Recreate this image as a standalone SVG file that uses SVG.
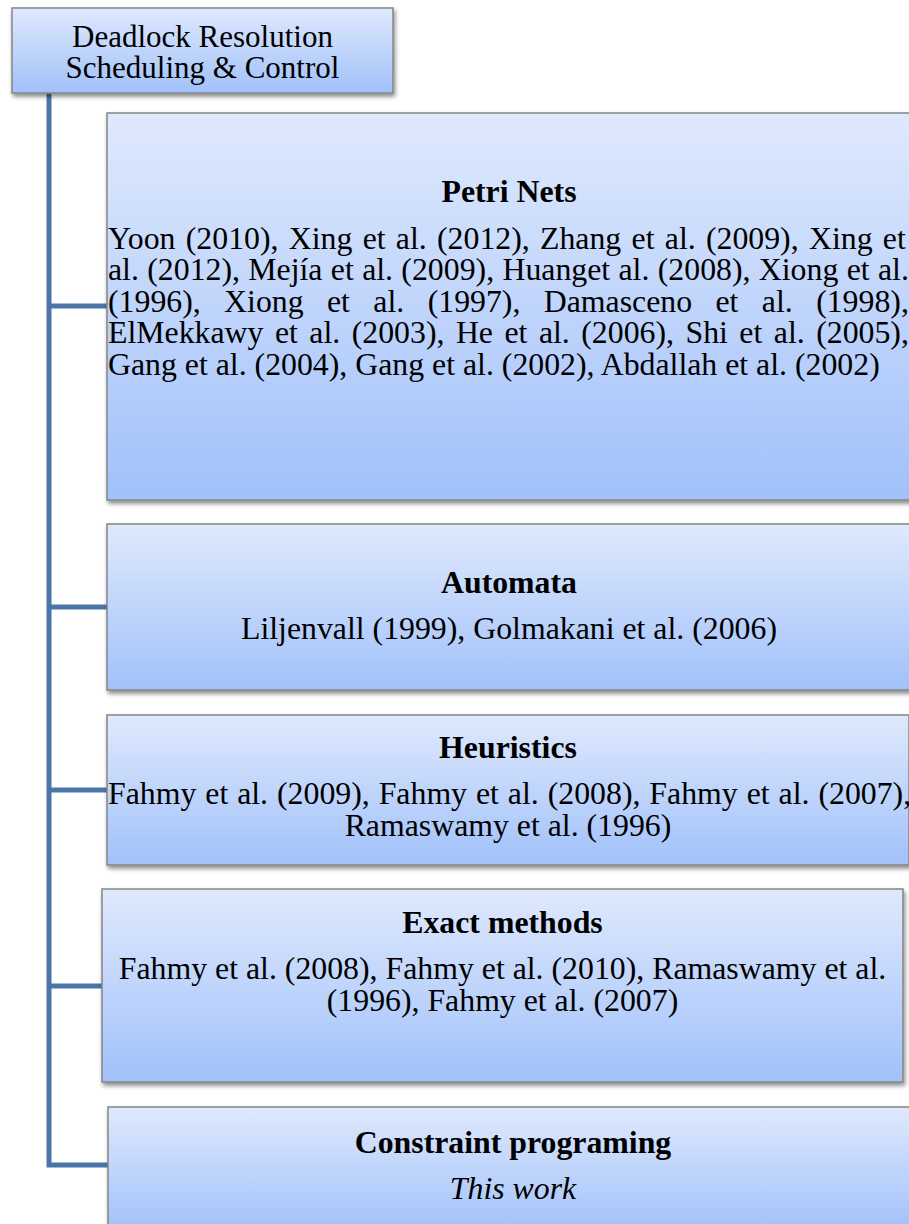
<svg xmlns="http://www.w3.org/2000/svg" width="909" height="1224" viewBox="0 0 909 1224">
  <defs>
    <linearGradient id="boxFill" x1="0" y1="0" x2="0" y2="1">
      <stop offset="0" stop-color="#dfe9fd"/>
      <stop offset="1" stop-color="#a1c1fa"/>
    </linearGradient>
    <filter id="shadow" x="-5%" y="-10%" width="115%" height="130%">
      <feDropShadow dx="1.5" dy="3" stdDeviation="2" flood-color="#000" flood-opacity="0.45"/>
    </filter>
  </defs>
  <style>
    .box { fill: url(#boxFill); stroke: #858585; stroke-width: 1.5; filter: url(#shadow); }
    .conn { fill: none; stroke: #4a75a8; stroke-width: 5; }
    text { font-family: "Liberation Serif", "Times New Roman", serif; font-size: 31.8px; fill: #000; }
    .title { font-weight: bold; text-anchor: middle; }
    .mid { text-anchor: middle; }
    .root { font-size: 31px; text-anchor: middle; }
    .it { font-style: italic; text-anchor: middle; }
  </style>
  <rect width="909" height="1224" fill="#ffffff"/>

  <g id="connectors">
    <path class="conn" d="M49,92 V1165 H108"/>
    <path class="conn" d="M49,306 H107"/>
    <path class="conn" d="M49,607 H107"/>
    <path class="conn" d="M49,790 H107"/>
    <path class="conn" d="M49,986 H102"/>
  </g>

  <g id="root">
    <rect class="box" x="12" y="8" width="381" height="85"/>
    <text class="root" x="202.5" y="47">Deadlock Resolution</text>
    <text class="root" x="202.5" y="78">Scheduling &amp; Control</text>
  </g>

  <g id="petri-nets">
    <rect class="box" x="107" y="113" width="805" height="387"/>
    <text class="title" x="509" y="202">Petri Nets</text>
    <text x="108" y="248.5" word-spacing="2.33">Yoon (2010), Xing et al. (2012), Zhang et al. (2009), Xing et</text>
    <text x="108" y="280" word-spacing="0.4">al. (2012), Mejía et al. (2009), Huanget al. (2008), Xiong et al.</text>
    <text x="108" y="311.5" word-spacing="15.45">(1996), Xiong et al. (1997), Damasceno et al. (1998),</text>
    <text x="108" y="343" word-spacing="3.53">ElMekkawy et al. (2003), He et al. (2006), Shi et al. (2005),</text>
    <text x="108" y="374.5">Gang et al. (2004), Gang et al. (2002), Abdallah et al. (2002)</text>
  </g>

  <g id="automata">
    <rect class="box" x="107" y="524" width="805" height="166"/>
    <text class="title" x="509" y="593">Automata</text>
    <text class="mid" x="509" y="639">Liljenvall (1999), Golmakani et al. (2006)</text>
  </g>

  <g id="heuristics">
    <rect class="box" x="107" y="715" width="802" height="150"/>
    <text class="title" x="508" y="758">Heuristics</text>
    <text x="108" y="804" word-spacing="1">Fahmy et al. (2009), Fahmy et al. (2008), Fahmy et al. (2007),</text>
    <text class="mid" x="508" y="835.5">Ramaswamy et al. (1996)</text>
  </g>

  <g id="exact-methods">
    <rect class="box" x="102" y="889" width="801" height="193"/>
    <text class="title" x="502.5" y="933">Exact methods</text>
    <text class="mid" x="502.5" y="979">Fahmy et al. (2008), Fahmy et al. (2010), Ramaswamy et al.</text>
    <text class="mid" x="502.5" y="1010.5">(1996), Fahmy et al. (2007)</text>
  </g>

  <g id="constraint-programing">
    <rect class="box" x="108" y="1107" width="810" height="125"/>
    <text class="title" x="513" y="1153">Constraint programing</text>
    <text class="it" x="513" y="1199">This work</text>
  </g>
</svg>
